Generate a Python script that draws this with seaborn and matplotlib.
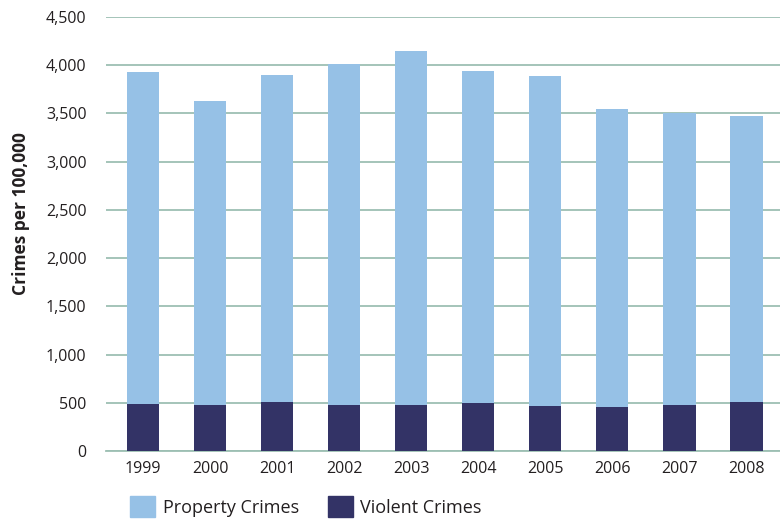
import matplotlib
matplotlib.use("Agg")
import matplotlib.pyplot as plt
import seaborn as sns
import pandas as pd
from matplotlib.patches import Patch

years = ["1999", "2000", "2001", "2002", "2003", "2004", "2005", "2006", "2007", "2008"]
violent = [487, 477, 508, 477, 477, 497, 466, 456, 477, 508]
property_crimes = [3440, 3150, 3388, 3533, 3668, 3440, 3420, 3088, 3028, 2963]

light_blue = "#96c1e6"
navy = "#333366"
grid_col = "#9dbfb3"

df = pd.DataFrame({"year": years, "violent": violent, "property": property_crimes})
df["total"] = df["violent"] + df["property"]

sns.set_style("white")
plt.rcParams["font.family"] = ["Open Sans", "DejaVu Sans"]

fig = plt.figure(figsize=(7.8, 5.27), dpi=100)
ax = fig.add_axes([0.136, 0.144, 0.864, 0.824])

# property stacked on violent: draw the total, then violent over it
sns.barplot(data=df, x="year", y="total", color=light_blue, width=0.48,
            saturation=1, linewidth=0, ax=ax, zorder=3)
sns.barplot(data=df, x="year", y="violent", color=navy, width=0.48,
            saturation=1, linewidth=0, ax=ax, zorder=3)

ax.set_ylim(0, 4500)
ax.set_xlim(-0.55, 9.5)
ax.set_yticks(range(0, 4501, 500))
ax.set_yticklabels([f"{v:,}" for v in range(0, 4501, 500)])
ax.yaxis.grid(True, color=grid_col, linewidth=1.3, zorder=0)
for s in ["top", "right", "left"]:
    ax.spines[s].set_visible(False)
ax.spines["bottom"].set_color(grid_col)
ax.spines["bottom"].set_linewidth(1.3)
ax.tick_params(axis="both", length=0, labelsize=11.5, colors="#231f20")
ax.tick_params(axis="y", pad=14)
ax.tick_params(axis="x", pad=7)
ax.set_xlabel("")
ax.set_ylabel("Crimes per 100,000", fontsize=12.5, fontweight="bold",
              color="#231f20")
ax.yaxis.set_label_coords(-0.113, 0.546)

handles = [Patch(color=light_blue, label="Property Crimes"),
           Patch(color=navy, label="Violent Crimes")]
fig.legend(handles=handles, loc="lower left", bbox_to_anchor=(0.146, -0.012),
           ncol=2, frameon=False, fontsize=13, handlelength=1.4,
           handleheight=1.4, columnspacing=1.6, handletextpad=0.4,
           labelcolor="#231f20")

fig.savefig("out.png", dpi=100)
